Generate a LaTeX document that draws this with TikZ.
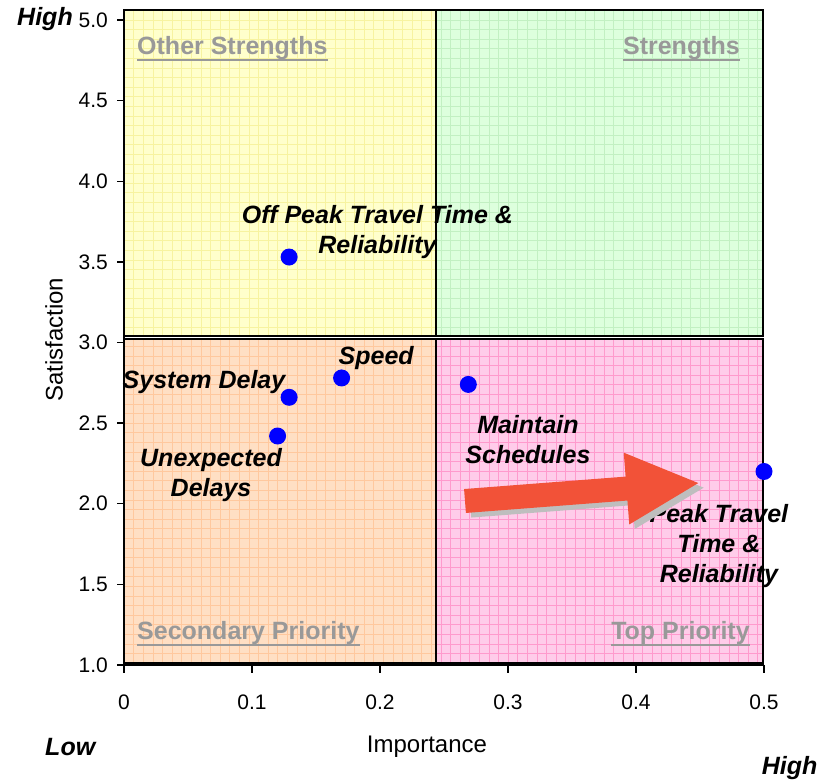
\documentclass[tikz,border=0pt]{standalone}
\usepackage{fontspec}
\setmainfont{Liberation Sans}
\usepackage{tikz}

\definecolor{yellowq}{HTML}{FFFFCC}
\definecolor{yellowg}{HTML}{F7F3A0}
\definecolor{greenq}{HTML}{DDFFDD}
\definecolor{greeng}{HTML}{C2F0C2}
\definecolor{orangeq}{HTML}{FFDFC4}
\definecolor{orangeg}{HTML}{FFC89E}
\definecolor{pinkq}{HTML}{FFCCEA}
\definecolor{pinkg}{HTML}{FF9ACD}
\definecolor{qgray}{HTML}{999999}
\definecolor{arrowred}{HTML}{F25238}
\definecolor{shadowgray}{HTML}{BEBEBE}

\begin{document}
\begin{tikzpicture}
        [x=1280pt, y=161.25pt,
        quad/.style={draw=black, line width=1.6pt},
        axisline/.style={draw=black, line width=1.4pt},
        dot/.style={circle, fill=blue, inner sep=0pt, minimum size=17pt},
        lbl/.style={font=\fontsize{25}{30}\selectfont\bfseries\itshape, align=center, inner sep=0pt},
        qlbl/.style={font=\fontsize{25}{28}\selectfont\bfseries, text=qgray, inner sep=0pt},
        uline/.style={draw=qgray, line width=2.2pt},
        ticklbl/.style={font=\fontsize{21}{25}\selectfont, inner sep=0pt},
        title/.style={font=\fontsize{24}{28}\selectfont, inner sep=0pt}]
        \useasboundingbox (-0.096875,0.28682) rectangle (0.55391,5.12403);
        % quadrants with their fine grid
        \foreach \xa/\ya/\xb/\yb/\fc/\gc in
           {0/3.040/0.2438/5.062/yellowq/yellowg,
            0.2438/3.040/0.4992/5.062/greenq/greeng,
            0/1.012/0.2438/3.022/orangeq/orangeg,
            0.2438/1.012/0.4992/3.022/pinkq/pinkg}
        {
           \fill[\fc] (\xa,\ya) rectangle (\xb,\yb);
           \draw[\gc, line width=0.6pt, step=9.6pt] (\xa,\ya) grid (\xb,\yb);
           \draw[quad] (\xa,\ya) rectangle (\xb,\yb);
        }
        % axes and ticks
        \draw[axisline] (0,5) -- (0,1) -- (0.5,1);
        \foreach \v [count=\i] in {1.0,1.5,2.0,2.5,3.0,3.5,4.0,4.5,5.0}
        {
           \draw[axisline] (0,\v) -- ++(-7pt,0);
           \node (ytick\i) at (-0.0125,\v) [ticklbl, anchor=east] {\v};
        }
        \foreach \u [count=\i] in {0,0.1,0.2,0.3,0.4,0.5}
        {
           \draw[axisline] (\u,1) -- ++(0,-8pt);
           \node (xtick\i) at (\u,0.7705) [ticklbl] {\u};
        }
        \node (ytitle) at (-0.0547,3.016) [title, rotate=90] {Satisfaction};
        \node (xtitle) at (0.2367,0.4915) [title] {Importance};
        \node (highy) at (-0.0617,5.006) [lbl] {High};
        \node (lowx) at (-0.042,0.4915) [lbl] {Low};
        \node (highx) at (0.520,0.361) [lbl] {High};
        % quadrant names, underlined
        \node (othstr) at (0.01016,4.783) [qlbl, anchor=base west] {Other Strengths};
        \node (strengths) at (0.48125,4.783) [qlbl, anchor=base east] {Strengths};
        \node (secprio) at (0.01016,1.155) [qlbl, anchor=base west] {Secondary Priority};
        \node (topprio) at (0.489,1.155) [qlbl, anchor=base east] {Top Priority};
        \foreach \q in {othstr, strengths, secprio, topprio}
           \draw[uline] ([yshift=-5pt]\q.base west) -- ([yshift=-5pt]\q.base east);
        % point labels
        \node (offpeaklbl) at (0.198,3.684) [lbl] {Off Peak Travel Time \&\\Reliability};
        \node (speedlbl) at (0.197,2.904) [lbl] {Speed};
        \node (sysdelaylbl) at (0.0625,2.755) [lbl] {System Delay};
        \node (unexplbl) at (0.068,2.175) [lbl] {Unexpected\\Delays};
        \node (maintainlbl) at (0.3156,2.40) [lbl] {Maintain\\Schedules};
        \node (peaklbl) at (0.4648,1.738) [lbl] {Peak Travel\\Time \&\\Reliability};
        % data points
        \node (offpeak) at (0.129,3.53) [dot] {};
        \node (speed) at (0.17,2.78) [dot] {};
        \node (sysdelay) at (0.129,2.66) [dot] {};
        \node (unexp) at (0.12,2.42) [dot] {};
        \node (maintain) at (0.269,2.74) [dot] {};
        \node (peak) at (0.5,2.2) [dot] {};
        % big arrow with its shadow
        \begin{scope}[shift={(0.2664,2.017)}, x=1pt, y=1pt, rotate=4.4]
           \foreach \dx/\dy/\c in {5/-5/shadowgray, 0/0/arrowred}
              \fill[\c, shift={(\dx pt,\dy pt)}] (0,12) -- (162,12) -- (162,36)
                 -- (234,0) -- (162,-36) -- (162,-12) -- (0,-12) -- cycle;
        \end{scope}
     \end{tikzpicture}
\end{document}
